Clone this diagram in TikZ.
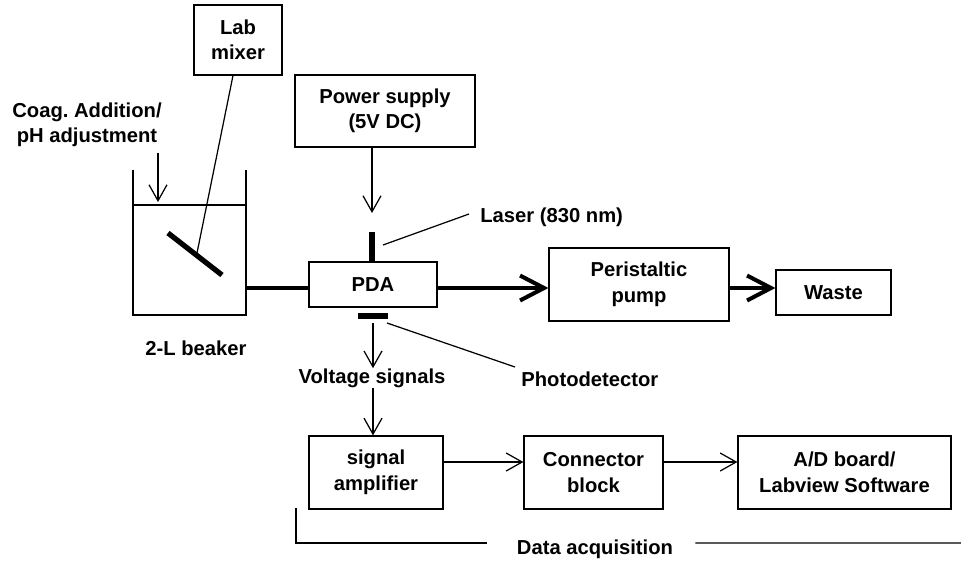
\documentclass[tikz,border=0pt]{standalone}
\usepackage{fontspec}
\setmainfont{Liberation Sans}
\usetikzlibrary{arrows.meta}
\frenchspacing
\begin{document}
\begin{tikzpicture}[x=0.02cm,y=-0.02cm,font=\bfseries\fontsize{11.5}{14.5}\selectfont]
\tikzset{unit/.style={draw,line width=0.7pt,inner sep=0pt,align=center},
         lbl/.style={inner sep=0pt,align=center},
         sig/.style={line width=0.7pt,-{Straight Barb[length=3.2mm,width=3.6mm]}},
         flow/.style={line width=2.3pt,-{Straight Barb[length=4.8mm,width=5mm]}},
         thin/.style={line width=0.7pt}}
\useasboundingbox (0,0) rectangle (961,562);

% the boxes
\node[unit,minimum width=1.76cm,minimum height=1.4cm] (mixer) at (238,40) {Lab\\mixer};
\node[unit,minimum width=3.6cm,minimum height=1.44cm] (power) at (385,111) {Power supply\\(5V DC)};
\node[unit,minimum width=2.56cm,minimum height=0.9cm] (pda) at (373,284.5) {PDA};
\node[unit,minimum width=3.6cm,minimum height=1.46cm] (pump) at (639,284.5) {Peristaltic\\pump};
\node[unit,minimum width=2.3cm,minimum height=0.9cm] (waste) at (833.5,292.5) {Waste};
\node[unit,minimum width=2.68cm,minimum height=1.46cm] (amp) at (376,472.5) {signal\\amplifier};
\node[unit,minimum width=2.78cm,minimum height=1.46cm] (conn) at (593.5,472.5) {Connector\\block};
\node[unit,minimum width=4.26cm,minimum height=1.46cm] (adc) at (844.5,472.5) {A/D board/\\Labview Software};

% free labels
\node[lbl] (coag) at (87,125) {Coag. Addition/\\pH adjustment};
\node[lbl,anchor=west] (laser) at (480,217) {Laser (830 nm)};
\node[lbl] (beaker) at (196,348) {2-L beaker};
\node[lbl] (volt) at (372,378) {Voltage signals};
\node[lbl,anchor=west] (photo) at (521,379) {Photodetector};
\node[lbl] (daq) at (595,549) {Data acquisition};

% the beaker with the stirrer
\draw[thin] (133,170) |- (246,315) -- (246,170);
\draw[thin] (133,205) -- (246,205);
\coordinate (coagin) at (158,202);
\draw[sig] ([yshift=-0.1cm]coag.south -| coagin) -- (coagin);
\coordinate (shaftend) at (197,253);
\draw[thin] ([xshift=-0.1cm]mixer.south) -- (shaftend);
\draw[line width=3pt] (168,233) -- (222,275);

% flow line: beaker -> PDA -> pump -> waste
\coordinate (beakerout) at (246,288);
\draw[line width=2.3pt] (beakerout) -- (pda.west |- beakerout);
\draw[flow] (pda.east |- beakerout) -- (pump.west |- beakerout);
\draw[flow] (pump.east |- beakerout) -- (waste.west |- beakerout);

% laser and photodetector on the PDA
\coordinate (laserbar) at (372,232);
\draw[line width=3.2pt] (laserbar) -- (pda.north -| laserbar);
\draw[sig] (power.south -| laserbar) -- ([yshift=0.38cm]laserbar);
\coordinate (laserfoot) at (383,245);
\draw[thin] (laserfoot) -- ([xshift=-0.22cm,yshift=0.06cm]laser.west);
\coordinate (pdbar) at (373,316);
\draw[line width=3.2pt] ([xshift=-0.3cm]pdbar) -- ([xshift=0.3cm]pdbar);
\coordinate (pdfoot) at (387,323);
\draw[thin] (pdfoot) -- ([xshift=-0.12cm,yshift=0.24cm]photo.west);

% signal chain
\draw[sig] ([yshift=-0.14cm]pdbar) -- (volt.north -| pdbar);
\draw[sig] (volt.south -| pdbar) -- (amp.north -| pdbar);
\foreach \a/\b in {amp/conn,conn/adc}
    \draw[sig] ([yshift=0.21cm]\a.east) -- ([yshift=0.21cm]\b.west);

% data acquisition bracket
\coordinate (daqtop) at (296,508);
\coordinate (daqend) at (961,543);
\draw[thin] (daqtop) |- ([xshift=-0.6cm,yshift=0.12cm]daq.west);
\draw[thin] ([xshift=0.44cm,yshift=0.12cm]daq.east) -- (daqend);
\end{tikzpicture}
\end{document}
